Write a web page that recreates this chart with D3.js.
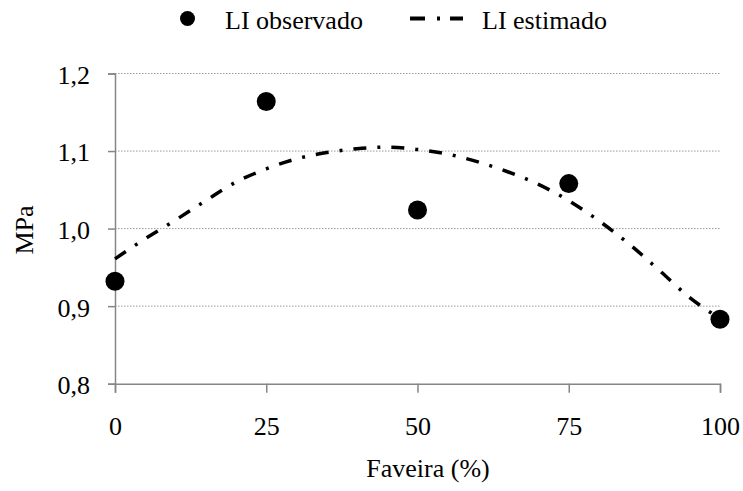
<!DOCTYPE html>
<html>
<head>
<meta charset="utf-8">
<script src="https://cdn.jsdelivr.net/npm/d3@7"></script>
<style>
  body { margin: 0; background: #fff; }
  text { font-family: "Liberation Serif", "Times New Roman", serif; fill: #000; }
</style>
</head>
<body>
<div id="chart"></div>
<script>
let width = 743;
let height = 491;

// observed values
let obsX = [0, 25, 50, 75, 100];
let obsY = [0.932, 1.164, 1.024, 1.058, 0.883];

// fitted curve
let estX = [0, 5, 10, 15, 20, 25, 30, 35, 40, 45, 50, 55, 60, 65, 70, 75, 80, 85, 90, 95, 100];
let estY = [0.961, 0.987, 1.011, 1.036, 1.060, 1.077, 1.090, 1.098, 1.103, 1.105, 1.102,
            1.096, 1.086, 1.073, 1.057, 1.036, 1.010, 0.980, 0.946, 0.911, 0.884];

let xTicks = [0, 25, 50, 75, 100];
let yTicks = [0.8, 0.9, 1.0, 1.1, 1.2];

let margin = {left: 115, right: 23, top: 73.5, bottom: 107.3};
let fontSize = "26px";

let svg = d3.select("#chart").append("svg")
    .attr("width", width)
    .attr("height", height);

let x = d3.scaleLinear().domain([0, 100]).range([margin.left, width - margin.right]);
let y = d3.scaleLinear().domain([0.8, 1.2]).range([height - margin.bottom, margin.top]);

let fmt = d => d3.format(".1f")(d).replace(".", ",");

// gridlines
svg.append("g")
    .selectAll("line")
    .data(yTicks.filter(d => d > 0.8))
    .enter()
    .append("line")
        .attr("x1", x(0))
        .attr("x2", x(100))
        .attr("y1", d => y(d))
        .attr("y2", d => y(d))
        .style("stroke", "#9a9a9a")
        .style("stroke-width", "1px")
        .style("stroke-dasharray", "1.5,1.5");

// y axis
let yAxis = svg.append("g")
    .attr("transform", `translate(${x(0)},0)`)
    .call(d3.axisLeft(y).tickValues(yTicks).tickFormat(fmt).tickSize(7).tickPadding(18));
yAxis.selectAll(".tick text").attr("dy", "0.38em");

// x axis
let xAxis = svg.append("g")
    .attr("transform", `translate(0,${y(0.8)})`)
    .call(d3.axisBottom(x).tickValues(xTicks).tickSize(9));
xAxis.selectAll(".tick text").attr("y", 51).attr("dy", null);

[xAxis, yAxis].forEach(ax => {
    ax.select(".domain").style("stroke", "#868686").style("stroke-width", "1.5px");
    ax.selectAll(".tick line").style("stroke", "#868686").style("stroke-width", "1.5px");
    ax.selectAll(".tick text")
        .style("font-family", "Liberation Serif")
        .style("font-size", fontSize)
        .style("fill", "#000");
});

// fitted curve
let line = d3.line()
    .x((d, i) => x(estX[i]))
    .y(d => y(d))
    .curve(d3.curveMonotoneX);

svg.append("path")
    .datum(estY)
    .attr("d", line)
    .style("fill", "none")
    .style("stroke", "#000")
    .style("stroke-width", "3.5px")
    .style("stroke-dasharray", "13,11,3,11");

// observed points
svg.append("g")
    .selectAll("circle")
    .data(obsY)
    .enter()
    .append("circle")
        .attr("cx", (d, i) => x(obsX[i]))
        .attr("cy", d => y(d))
        .attr("r", 9.5)
        .style("fill", "#000");

// axis titles
svg.append("text")
    .attr("x", 428)
    .attr("y", 477)
    .attr("text-anchor", "middle")
    .style("font-size", fontSize)
    .text("Faveira (%)");

svg.append("text")
    .attr("transform", "translate(33,230) rotate(-90)")
    .attr("text-anchor", "middle")
    .style("font-size", fontSize)
    .text("MPa");

// legend
let legend = svg.append("g");
legend.append("circle")
    .attr("cx", 187.5)
    .attr("cy", 18.5)
    .attr("r", 7.5)
    .style("fill", "#000");
legend.append("text")
    .attr("x", 225)
    .attr("y", 29)
    .style("font-size", fontSize)
    .text("LI observado");
legend.append("line")
    .attr("x1", 410)
    .attr("x2", 463)
    .attr("y1", 18.5)
    .attr("y2", 18.5)
    .style("stroke", "#000")
    .style("stroke-width", "4px")
    .style("stroke-dasharray", "15,12,3,10");
legend.append("text")
    .attr("x", 482)
    .attr("y", 29)
    .style("font-size", fontSize)
    .text("LI estimado");
</script>
</body>
</html>
